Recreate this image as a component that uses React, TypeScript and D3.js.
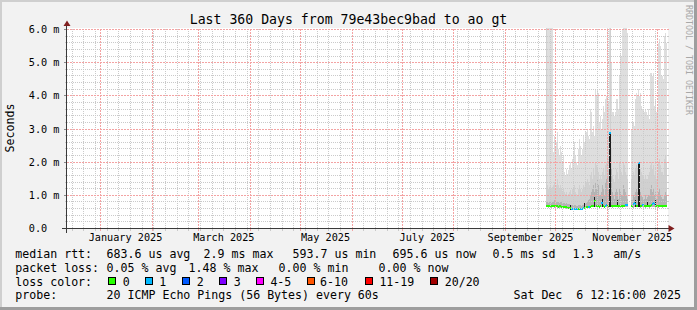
import React from "react";
import * as d3 from "d3";

// ---------- time frame ----------
const END_TIME = Date.UTC(2025, 11, 6, 14, 16, 0);
const SPAN_DAYS = 360;
const FIRST_SAMPLE = Date.UTC(2025, 8, 25, 7, 4, 0);
const STEP_SECONDS = 51840;

// ---------- data (milliseconds) ----------
const minRtt: (number | null)[] = [
  0.64, 0.64, 0.63, 0.64, 0.64, 0.63, 0.64, 0.64, 0.63, 0.64,
  0.64, 0.63, 0.63, 0.63, 0.63, 0.62, 0.62, 0.62, 0.61, 0.61,
  0.6, 0.6, 0.59, 0.58, 0.57, 0.57, 0.56, 0.56, 0.56, 0.55,
  0.56, 0.55, 0.56, 0.56, 0.57, 0.56, 0.57, 0.58, 0.59, 0.6,
  0.61, 0.62, 0.62, 0.63, 0.63, 0.64, 0.64, 0.64, 0.64, 0.64,
  0.64, 0.63, 0.64, 0.64, 0.64, 0.64, 0.64, 0.64, 0.63, 0.64,
  0.64, 0.64, 0.63, 0.64, 0.64, 0.64, 0.63, 0.64, 0.64, 0.64,
  0.64, 0.64, 0.63, 0.64, 0.64, 0.64, 0.63, 0.64, 0.64, 0.64,
  0.64, 0.64, null, null, null, 0.64, 0.64, 0.63, 0.64, 0.64,
  0.64, 0.64, 0.64, 0.64, 0.63, 0.64, 0.64, 0.64, 0.64, 0.63,
  0.64, 0.64, 0.64, 0.63, 0.64, 0.64, 0.64, 0.64, 0.64, 0.63,
  0.64, 0.64, 0.63, 0.64, 0.64, 0.64, 0.63, 0.64, 0.64, 0.64,
  0.64,
];

const maxRtt: (number | null)[] = [
  7, 7, 7, 7, 7, 7, 7, 2.3, 2.8, 2.5,
  2.6, 2.9, 2.4, 2.2, 2.5, 2.3, 2.0, 2.2, 1.7, 1.6,
  1.8, 1.65, 1.75, 1.9, 2.0, 1.8, 2.1, 2.3, 2.6, 2.2,
  2.0, 1.9, 2.4, 2.7, 2.5, 2.2, 2.4, 2.8, 2.6, 2.9,
  2.9, 3.0, 2.8, 2.7, 3.6, 3.5, 2.9, 3.1, 2.8, 4.2,
  4.0, 4.2, 4.1, 3.2, 3.4, 3.0, 3.3, 3.7, 3.5, 3.9,
  4.0, 6.5, 3.8, 6.5, 6.5, 5.0, 3.5, 3.5, 3.4, 3.5,
  3.9, 3.9, 3.6, 4.6, 5.3, 5.2, 6.0, 6.5, 6.5, 6.5,
  6.1, 5.9, null, null, null, 3.0, 3.2, 3.2, 3.1, 3.9,
  4.1, 4.0, 4.2, 4.0, 4.1, 3.7, 3.6, 3.6, 3.5, 3.6,
  3.5, 3.4, 3.6, 3.3, 4.7, 4.7, 4.6, 4.7, 3.7, 3.9,
  3.5, 3.6, 5.6, 5.7, 5.5, 4.6, 4.6, 4.5, 5.8, 5.9,
  5.6,
];

const upperRtt: (number | null)[] = [
  7, 1.3, 1.2, 1.25, 1.3, 1.2, 1.25, 1.3, 1.4, 1.2,
  1.3, 1.5, 1.3, 1.2, 1.3, 1.2, 1.1, 1.2, 1.1, 1.05,
  1.1, 1.0, 1.05, 1.1, 1.15, 1.05, 1.2, 1.2, 1.3, 1.1,
  1.05, 1.0, 1.2, 1.3, 1.2, 1.1, 1.2, 1.3, 1.25, 1.35,
  1.4, 1.5, 1.4, 1.3, 1.6, 1.7, 1.5, 1.8, 1.6, 2.0,
  1.9, 1.8, 1.7, 1.5, 1.6, 1.5, 1.7, 1.8, 1.6, 1.9,
  2.0, 2.2, 1.8, 2.5, 6.5, 2.4, 1.6, 1.5, 1.4, 1.6,
  1.8, 1.7, 1.5, 2.0, 1.8, 1.7, 1.6, 2.0, 1.9, 1.7,
  1.6, 1.5, null, null, null, 1.5, 1.6, 1.7, 1.6, 1.8,
  1.9, 1.8, 1.9, 2.0, 1.8, 1.7, 1.6, 1.6, 1.5, 1.6,
  1.5, 1.5, 1.6, 1.7, 1.9, 2.0, 1.8, 1.9, 1.6, 1.7,
  1.5, 1.6, 2.0, 2.1, 1.9, 1.7, 1.7, 1.6, 2.1, 2.2,
  2.0,
];

const darkRtt: (number | null)[] = [
  0.8, 0.8, 0.78, 0.8, 0.82, 0.78, 0.8, 0.8, 0.85, 0.78,
  0.8, 0.82, 0.8, 0.78, 0.8, 0.79, 0.77, 0.78, 0.76, 0.75,
  0.76, 0.74, 0.74, 0.73, 0.72, 0.72, 0.71, 0.7, 0.72, 0.7,
  0.69, 0.68, 0.7, 0.72, 0.7, 0.69, 0.7, 0.72, 0.71, 0.74,
  0.78, 0.8, 0.85, 0.9, 1.0, 1.1, 1.2, 1.3, 1.1, 1.4,
  1.2, 1.5, 1.3, 1.0, 1.0, 1.1, 1.3, 1.2, 1.0, 1.4,
  1.5, 1.6, 1.2, 2.0, 2.2, 1.8, 1.1, 1.0, 0.9, 1.1,
  1.2, 1.1, 0.9, 1.2, 1.1, 1.0, 1.0, 1.3, 1.2, 1.1,
  1.0, 0.9, null, null, null, 0.85, 0.9, 1.0, 0.95, 1.1,
  1.2, 1.1, 1.3, 1.4, 1.1, 1.0, 0.95, 0.9, 0.9, 1.0,
  0.9, 0.95, 1.0, 1.0, 1.2, 1.3, 1.1, 1.2, 1.0, 1.1,
  0.9, 1.0, 1.1, 1.2, 1.0, 0.95, 0.9, 0.9, 1.0, 1.1,
  1.0,
];

const coreRtt: (number | null)[] = [
  null, null, null, null, null, null, null, null, null, null,
  null, null, null, null, null, null, null, null, null, null,
  null, null, null, null, 0.72, null, null, null, null, null,
  null, null, null, null, null, null, null, null, 0.76, null,
  null, null, null, null, null, null, null, null, 0.95, null,
  null, null, null, null, null, null, 0.9, null, null, null,
  null, null, null, 2.92, 2.92, null, null, null, null, null,
  null, 0.86, null, null, null, null, null, null, null, null,
  null, null, null, null, null, null, null, null, null, 0.86,
  null, null, 2.0, 2.0, null, null, null, null, null, null,
  null, 0.8, null, null, null, null, null, null, null, 0.86,
  null, null, null, null, null, null, null, null, null, null,
  null,
];

const medianRtt: (number | null)[] = [
  0.69, 0.69, 0.68, 0.68, 0.69, 0.68, 0.68, 0.68, 0.68, 0.69,
  0.68, 0.68, 0.67, 0.68, 0.68, 0.67, 0.67, 0.66, 0.66, 0.65,
  0.65, 0.64, 0.64, 0.63, 0.62, 0.61, 0.61, 0.6, 0.6, 0.59,
  0.6, 0.59, 0.6, 0.6, 0.61, 0.6, 0.61, 0.62, 0.63, 0.64,
  0.65, 0.66, 0.66, 0.67, 0.67, 0.68, 0.68, 0.68, 0.85, 0.84,
  0.68, 0.67, 0.68, 0.67, 0.68, 0.78, 0.77, 0.68, 0.67, 0.7,
  0.72, 0.7, 0.68, 2.88, 2.88, 0.69, 0.68, 0.68, 0.69, 0.68,
  0.68, 0.69, 0.68, 0.68, 0.68, 0.69, 0.68, 0.68, 0.69, 0.72,
  0.72, 0.72, null, null, null, 0.7, 0.69, 0.76, 0.77, 0.76,
  0.7, 0.69, 1.98, 1.98, 0.69, 0.68, 0.72, 0.72, 0.69, 0.68,
  0.68, 0.69, 0.68, 0.68, 0.69, 0.72, 0.76, 0.77, 0.76, 0.69,
  0.68, 0.68, 0.68, 0.69, 0.68, 0.68, 0.69, 0.68, 0.68, 0.69,
  0.7,
];

const lossCount: number[] = [
  0, 0, 0, 0, 0, 0, 0, 0, 0, 0,
  0, 0, 0, 0, 0, 0, 0, 0, 0, 0,
  0, 0, 0, 0, 0, 1, 1, 1, 1, 1,
  1, 1, 0, 0, 1, 1, 1, 1, 0, 0,
  0, 0, 1, 1, 0, 0, 0, 0, 0, 0,
  0, 0, 0, 0, 0, 1, 1, 0, 0, 1,
  1, 0, 0, 1, 1, 0, 0, 0, 0, 0,
  0, 0, 0, 0, 0, 0, 0, 0, 0, 1,
  1, 1, 0, 0, 0, 0, 0, 1, 1, 1,
  0, 0, 1, 1, 0, 0, 1, 1, 0, 0,
  0, 0, 0, 0, 0, 0, 1, 1, 1, 0,
  0, 0, 0, 0, 0, 0, 0, 0, 0, 0,
  0,
];

// ---------- axis & legend text ----------
const yTickValues = [0, 1, 2, 3, 4, 5, 6];
const yTickLabels = ["0.0", "1.0 m", "2.0 m", "3.0 m", "4.0 m", "5.0 m", "6.0 m"];
const xLabelMonths = ["2025-01-01", "2025-03-01", "2025-05-01", "2025-07-01", "2025-09-01", "2025-11-01"];

const titleText = "Last 360 Days from 79e43bec9bad to ao gt";
const unitText = "Seconds";
const watermarkText = "RRDTOOL / TOBI OETIKER";

const rttLegend = ["median rtt:", "683.6 us avg", "2.9 ms max", "593.7 us min", "695.6 us now", "0.5 ms sd", "1.3", "am/s"];
const lossLegend = ["packet loss:", "0.05 % avg", "1.48 % max", "0.00 % min", "0.00 % now"];
const lossColorTitle = "loss color:";
const lossClassLabels = ["0", "1", "2", "3", "4-5", "6-10", "11-19", "20/20"];
const lossClassColors = ["#26ff00", "#00b8ff", "#0059ff", "#7e00ff", "#ff00ff", "#ff5500", "#ff0000", "#a10000"];
const lossClassUpper = [0, 1, 2, 3, 5, 10, 19, 20];
const probeLegend = ["probe:", "20 ICMP Echo Pings (56 Bytes) every 60s"];
const dateStamp = "Sat Dec  6 12:16:00 2025";

// ---------- layout (styling only) ----------
const FONT = "'DejaVu Sans Mono', monospace";
const rttX = [15.3, 106.6, 203.6, 292.6, 392.6, 492.6, 572.6, 613.3];
const lossX = [15.3, 106.6, 188.6, 278.6, 378.6];
const boxX = [108.5, 145.5, 182.5, 219.5, 256.5, 307.5, 365.5, 430.5];
const boxLabelX = [122.7, 159.3, 196.7, 233.7, 270.4, 320.1, 379.4, 444.7];

const half = (v: number) => Math.round(v - 0.5) + 0.5;

export default function App() {
  const end = new Date(END_TIME);
  const start = new Date(END_TIME - SPAN_DAYS * 86400000);
  const x = d3.scaleUtc().domain([start, end]).range([66.5, 666.5]);
  const y = d3.scaleLinear().domain([0, 6]).range([228.5, 29.5]);

  const cols = medianRtt
    .map((m, i) => {
      const t0 = new Date(FIRST_SAMPLE + i * STEP_SECONDS * 1000);
      const t1 = new Date(FIRST_SAMPLE + (i + 1) * STEP_SECONDS * 1000);
      return {
        i,
        x0: x(t0),
        w: x(t1) - x(t0),
        lo: minRtt[i],
        hi: maxRtt[i],
        up: upperRtt[i],
        dk: darkRtt[i],
        core: coreRtt[i],
        med: m,
        loss: lossCount[i],
      };
    })
    .filter((c) => c.med != null && c.lo != null);

  const lossColor = (l: number) => {
    const k = lossClassUpper.findIndex((u) => l <= u);
    return lossClassColors[k < 0 ? lossClassColors.length - 1 : k];
  };

  const monthLines = d3.utcMonth.range(start, end);
  const weekLines = d3.utcSunday.range(start, end).filter((d) => d.getUTCDate() !== 1);
  const minorY = d3.ticks(0, 6, 30).filter((v) => Math.abs(v - Math.round(v)) > 1e-6);
  const majorY = yTickValues.filter((v) => v > 0);

  const labelPrecis = 15 * 86400000;
  const xLabels = xLabelMonths.map((s) => {
    const d = new Date(s + "T00:00:00Z");
    return { d, t: new Date(d.getTime() + labelPrecis), text: d3.utcFormat("%B %Y")(d) };
  });

  const plotL = 66.5, plotR = 667, plotT = 29, plotB = 228.5;
  const minorStroke = "#cacaca";
  const majorStroke = "#f3a3a3";

  const rect = (c: any, top: number, bottom: number, fill: string, key: string) => {
    const yt = y(Math.min(top, 6.5));
    const yb = y(bottom);
    return <rect key={key} x={c.x0} y={yt} width={c.w} height={Math.max(0, yb - yt)} fill={fill} />;
  };

  const dotted = (x1: number, y1: number, x2: number, y2: number, color: string, key: string, dash = "1,1") => (
    <path
      key={key}
      d={`M${x1},${y1}L${x2},${y2}`}
      stroke={color}
      strokeWidth={1}
      strokeDasharray={dash}
      fill="none"
      shapeRendering="crispEdges"
    />
  );

  return (
    <svg
      width={697}
      height={310}
      viewBox="0 0 697 310"
      style={{ position: "absolute", left: 0, top: 0, display: "block" }}
      xmlns="http://www.w3.org/2000/svg"
    >
      <defs>
        <clipPath id="plotclip">
          <rect x={67} y={28} width={601} height={201} />
        </clipPath>
      </defs>
      {/* background and border */}
      <rect x={0} y={0} width={697} height={310} fill="#f2f2f2" />
      <rect x={0} y={0} width={697} height={2} fill="#cfcfcf" />
      <rect x={0} y={0} width={2} height={310} fill="#cfcfcf" />
      <rect x={0} y={307} width={697} height={3} fill="#9e9e9e" />
      <rect x={694} y={0} width={3} height={310} fill="#9e9e9e" />

      {/* canvas */}
      <rect x={67} y={28} width={601} height={201} fill="#ffffff" />

      {/* smoke */}
      <g clipPath="url(#plotclip)" shapeRendering="crispEdges">
        {cols.map((c) => rect(c, c.hi as number, c.lo as number, "#dedede", "h" + c.i))}
        {cols.map((c) => rect(c, c.up as number, c.lo as number, "#d0d0d0", "u" + c.i))}
        {cols.map((c) => rect(c, c.dk as number, c.lo as number, "#b4b4b4", "d" + c.i))}
        {cols
          .filter((c) => c.core != null)
          .map((c) => rect(c, c.core as number, c.lo as number, "#1e1e1e", "c" + c.i))}
        {cols.map((c) => (
          <rect
            key={"m" + c.i}
            x={c.x0}
            y={y(c.med as number) - 0.5}
            width={c.w}
            height={2}
            fill={lossColor(c.loss)}
          />
        ))}
      </g>

      {/* minor grid */}
      {minorY.map((v) => dotted(plotL, half(y(v)), plotR, half(y(v)), minorStroke, "my" + v))}
      {weekLines.map((d) => dotted(half(x(d)), plotT, half(x(d)), plotB, minorStroke, "wx" + d.getTime()))}
      {/* major grid */}
      {majorY.map((v) => dotted(plotL, half(y(v)), plotR, half(y(v)), majorStroke, "My" + v, "2,1"))}
      {monthLines.map((d) => dotted(half(x(d)), plotT, half(x(d)), plotB, majorStroke, "Mx" + d.getTime(), "2,1"))}

      {/* tick stubs */}
      <g shapeRendering="crispEdges" strokeWidth={1}>
        {minorY.map((v) => (
          <g key={"mt" + v}>
            <line x1={64.5} x2={66.5} y1={half(y(v))} y2={half(y(v))} stroke={minorStroke} />
            <line x1={667} x2={669} y1={half(y(v))} y2={half(y(v))} stroke={minorStroke} />
          </g>
        ))}
        {majorY.map((v) => (
          <g key={"Mt" + v}>
            <line x1={63.5} x2={66.5} y1={half(y(v))} y2={half(y(v))} stroke="#8a8a8a" />
            <line x1={667} x2={669} y1={half(y(v))} y2={half(y(v))} stroke={majorStroke} />
          </g>
        ))}
        {weekLines.map((d) => (
          <line key={"wt" + d.getTime()} x1={half(x(d))} x2={half(x(d))} y1={229} y2={231} stroke={minorStroke} />
        ))}
        {monthLines.map((d) => (
          <line key={"Mtx" + d.getTime()} x1={half(x(d))} x2={half(x(d))} y1={229} y2={231} stroke={majorStroke} />
        ))}
      </g>

      {/* axes */}
      <g shapeRendering="crispEdges">
        <line x1={62} x2={669} y1={228.5} y2={228.5} stroke="#3a3a3a" strokeWidth={1} />
        <line x1={66.5} x2={66.5} y1={232.5} y2={25} stroke="#3a3a3a" strokeWidth={1} />
      </g>
      <polygon points="668.5,225 668.5,232 674.5,228.5" fill="#801f1f" />
      <polygon points="63.5,26 70.5,26 67,20.5" fill="#801f1f" />

      {/* tick labels */}
      <g fontFamily={FONT} fontSize={10.2} fill="#000">
        {yTickValues.map((v, k) => (
          <text key={"yl" + v} x={28.8} y={half(y(v)) + 3.4} xmlSpace="preserve">
            {yTickLabels[k]}
          </text>
        ))}
        {xLabels.map((l) => (
          <text key={"xl" + l.text} x={x(l.t)} y={240.6} textAnchor="middle">
            {l.text}
          </text>
        ))}
      </g>

      {/* title, unit, watermark */}
      <text x={348.5} y={24} textAnchor="middle" fontFamily={FONT} fontSize={13.2} fill="#000">
        {titleText}
      </text>
      <text
        transform="translate(14.3,128) rotate(-90)"
        textAnchor="middle"
        fontFamily={FONT}
        fontSize={11.6}
        fill="#000"
      >
        {unitText}
      </text>
      <text
        transform="translate(685.6,60) rotate(90)"
        textAnchor="middle"
        fontFamily={FONT}
        fontSize={8.3}
        fill="#a8a8a8"
      >
        {watermarkText}
      </text>

      {/* legend */}
      <g fontFamily={FONT} fontSize={11.6} fill="#000">
        {rttLegend.map((s, k) => (
          <text key={"r" + k} x={rttX[k]} y={258.2} xmlSpace="preserve">
            {s}
          </text>
        ))}
        {lossLegend.map((s, k) => (
          <text key={"l" + k} x={lossX[k]} y={271.6} xmlSpace="preserve">
            {s}
          </text>
        ))}
        <text x={15.3} y={285.5}>{lossColorTitle}</text>
        {lossClassLabels.map((s, k) => (
          <g key={"lc" + k}>
            <rect
              x={boxX[k]}
              y={277.5}
              width={7}
              height={7}
              fill={lossClassColors[k]}
              stroke="#000"
              strokeWidth={1}
              shapeRendering="crispEdges"
            />
            <text x={boxLabelX[k]} y={285.5}>{s}</text>
          </g>
        ))}
        <text x={15.3} y={299}>{probeLegend[0]}</text>
        <text x={106.6} y={299}>{probeLegend[1]}</text>
        <text x={681} y={299} textAnchor="end" xmlSpace="preserve">
          {dateStamp}
        </text>
      </g>
    </svg>
  );
}
